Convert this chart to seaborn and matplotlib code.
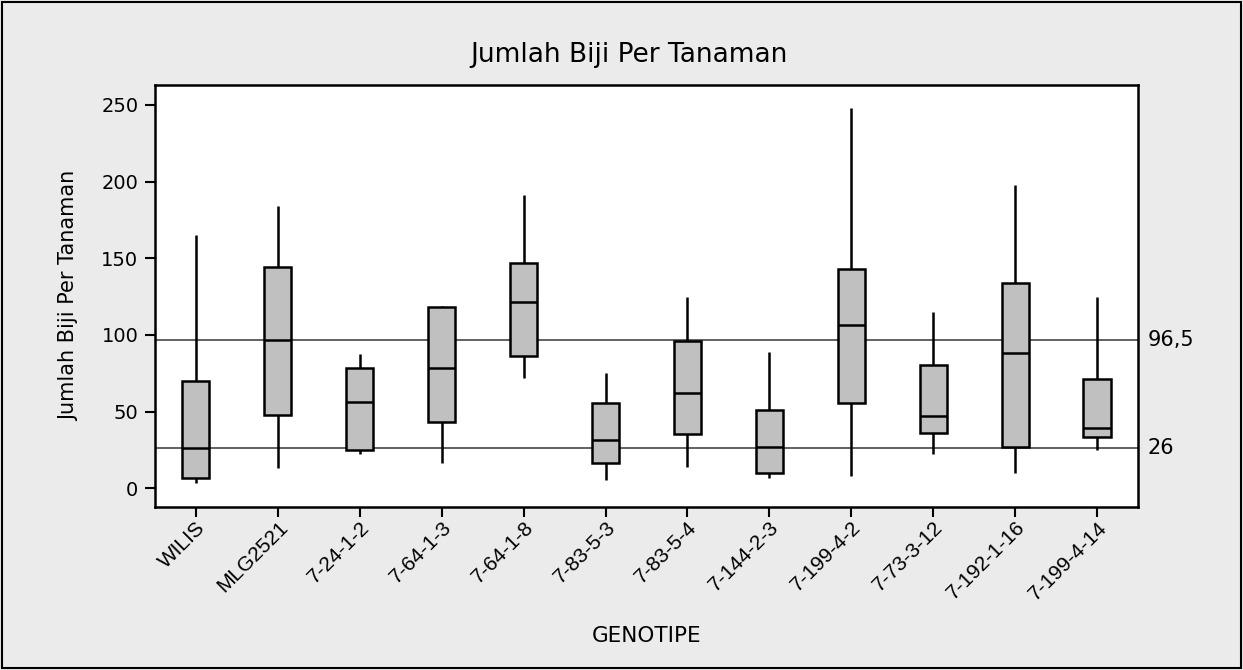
import numpy as np
import pandas as pd
import seaborn as sns
import matplotlib.pyplot as plt
from matplotlib.patches import Rectangle
import matplotlib.transforms as mtransforms

# genotypes in plotting order
genotipe = ["WILIS", "MLG2521", "7-24-1-2", "7-64-1-3", "7-64-1-8", "7-83-5-3",
            "7-83-5-4", "7-144-2-3", "7-199-4-2", "7-73-3-12", "7-192-1-16", "7-199-4-14"]

# five-number summaries
minimum = [3.3, 13.0, 22.2, 16.3, 72.1, 5.4, 14.1, 6.7, 8.0, 22.4, 9.8, 25.0]
q1 = [6.6, 47.6, 25.0, 43.0, 86.3, 16.7, 35.2, 9.8, 55.4, 36.3, 27.1, 33.7]
median = [26.0, 96.5, 56.5, 78.2, 121.7, 31.5, 62.4, 27.1, 106.5, 47.4, 88.5, 39.5]
q3 = [70.2, 144.1, 78.2, 118.0, 146.7, 55.4, 96.3, 51.1, 143.0, 80.4, 134.1, 71.3]
maximum = [165.2, 184.4, 87.6, 118.9, 191.3, 75.0, 125.0, 88.7, 247.8, 115.2, 197.8, 125.0]

ref_lines = [96.5, 26]
ref_labels = ["96,5", "26"]

# 5 points per group -> quartiles land exactly on the summary values
rows = []
for i, g in enumerate(genotipe):
    for v in (minimum[i], q1[i], median[i], q3[i], maximum[i]):
        rows.append({"GENOTIPE": g, "Jumlah": v})
df = pd.DataFrame(rows)

sns.set_style("white")
plt.rcParams["font.family"] = ["DejaVu Sans"]
plt.rcParams["text.color"] = "black"
plt.rcParams["axes.labelcolor"] = "black"
plt.rcParams["xtick.color"] = "black"
plt.rcParams["ytick.color"] = "black"

fig = plt.figure(figsize=(12.43, 6.70), dpi=100)
fig.patch.set_facecolor("#EBEBEB")
ax = fig.add_axes([0.1247, 0.2437, 0.7908, 0.629])
ax.set_facecolor("white")

for y in ref_lines:
    ax.axhline(y, color="#555555", linewidth=1.3, zorder=1)

sns.boxplot(data=df, x="GENOTIPE", y="Jumlah", order=genotipe, whis=(0, 100),
            showcaps=False, width=0.33, color="#C0C0C0", linecolor="black",
            linewidth=1.8, saturation=1, fliersize=0, ax=ax, zorder=2)

ax.set_xlim(-0.5, 11.5)
ax.set_ylim(-12.0, 262.8)
ax.set_yticks([0, 50, 100, 150, 200, 250])
ax.tick_params(axis="both", direction="out", length=7, width=1.5, color="black",
               labelsize=14, left=True, bottom=True)
ax.tick_params(axis="y", pad=5)
ax.tick_params(axis="x", pad=1)
plt.setp(ax.get_xticklabels(), rotation=45, ha="right", rotation_mode="anchor",
         fontsize=15, family=["Liberation Sans Narrow", "Liberation Sans"])

for s in ax.spines.values():
    s.set_color("black")
    s.set_linewidth(1.8)

trans = mtransforms.blended_transform_factory(ax.transAxes, ax.transData)
for y, lab in zip(ref_lines, ref_labels):
    ax.text(1.01, y, lab, transform=trans, ha="left", va="center", fontsize=15)

ax.set_xlabel("GENOTIPE", fontsize=15.5, labelpad=16)
ax.set_ylabel("Jumlah Biji Per Tanaman", fontsize=15, labelpad=16)
fig.text(0.506, 0.918, "Jumlah Biji Per Tanaman", ha="center", va="center", fontsize=19)

fig.patches.append(Rectangle((0.002, 0.003), 0.996, 0.994, transform=fig.transFigure,
                             fill=False, edgecolor="black", linewidth=1.5))

fig.savefig("out.png", dpi=100, facecolor=fig.get_facecolor())
